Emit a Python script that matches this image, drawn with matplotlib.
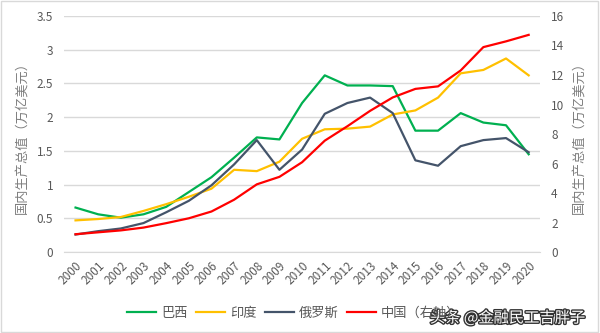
import matplotlib
matplotlib.use("Agg")
import matplotlib.pyplot as plt
import matplotlib.patheffects as pe
from matplotlib.patches import Rectangle

plt.rcParams['font.family'] = ['Noto Sans CJK SC', 'DejaVu Sans']

years = [str(y) for y in range(2000, 2021)]
brazil = [0.66, 0.56, 0.51, 0.56, 0.67, 0.89, 1.11, 1.40, 1.70, 1.67, 2.21, 2.62, 2.47, 2.47, 2.46, 1.80, 1.80, 2.06, 1.92, 1.88, 1.45]
india = [0.47, 0.49, 0.52, 0.61, 0.71, 0.82, 0.94, 1.22, 1.20, 1.34, 1.68, 1.82, 1.83, 1.86, 2.04, 2.10, 2.29, 2.65, 2.70, 2.87, 2.62]
russia = [0.26, 0.31, 0.35, 0.43, 0.59, 0.76, 0.99, 1.30, 1.66, 1.22, 1.52, 2.05, 2.21, 2.29, 2.06, 1.36, 1.28, 1.57, 1.66, 1.69, 1.48]
china = [1.21, 1.34, 1.47, 1.66, 1.96, 2.29, 2.75, 3.55, 4.59, 5.10, 6.09, 7.55, 8.53, 9.57, 10.48, 11.06, 11.23, 12.31, 13.89, 14.28, 14.72]
left_ticks = [0, 0.5, 1, 1.5, 2, 2.5, 3, 3.5]
left_tick_labels = ['0', '0.5', '1', '1.5', '2', '2.5', '3', '3.5']
right_ticks = [0, 2, 4, 6, 8, 10, 12, 14, 16]
series_names = ['巴西', '印度', '俄罗斯', '中国（右轴）']

fig = plt.figure(figsize=(6, 3.33), dpi=100)
fig.patches.append(Rectangle((0.002, 0.003), 0.995, 0.993, transform=fig.transFigure,
                             fill=False, edgecolor='#D9D9D9', linewidth=1))
ax = fig.add_axes([0.107, 0.243, 0.793, 0.709])
ax2 = ax.twinx()

x = list(range(len(years)))
tc = '#595959'
l1, = ax.plot(x, brazil, color='#00B050', lw=1.6)
l2, = ax.plot(x, india, color='#FFC000', lw=1.6)
l3, = ax.plot(x, russia, color='#44546A', lw=1.6)
l4, = ax2.plot(x, china, color='#FF0000', lw=1.6)

ax.set_ylim(0, 3.5)
ax2.set_ylim(0, 16)
ax.set_xlim(-0.5, len(years) - 0.5)
ax.set_yticks(left_ticks)
ax.set_yticklabels(left_tick_labels)
ax2.set_yticks(right_ticks)
ax.yaxis.grid(True, color='#D9D9D9', lw=1)
ax.set_axisbelow(True)
ax.set_xticks(x)
ax.set_xticklabels(years, rotation=45, ha='right', rotation_mode='anchor')

for a in (ax, ax2):
    for s in a.spines.values():
        s.set_visible(False)
    a.tick_params(length=0, labelsize=8.5, colors=tc)
ax.tick_params(axis='y', pad=8)
ax2.tick_params(axis='y', pad=8)
ax.tick_params(axis='x', pad=5)
ax.spines['bottom'].set_visible(True)
ax.spines['bottom'].set_color('#D9D9D9')

ax.set_ylabel('国内生产总值（万亿美元）', color='#7F7F7F', fontsize=9.5, labelpad=6)
ax2.set_ylabel('国内生产总值（万亿美元）', color='#7F7F7F', fontsize=9.5, rotation=90, labelpad=6)

fig.legend([l1, l2, l3, l4], series_names, loc='center', bbox_to_anchor=(0.49, 0.06),
           ncol=4, frameon=False, fontsize=9.5, labelcolor=tc, handlelength=2.2,
           columnspacing=0.6, handletextpad=0.4)

fig.text(0.975, 0.045, '头条 @金融民工吉胖子', ha='right', va='center', fontsize=11,
         color='white', path_effects=[pe.withStroke(linewidth=2, foreground='#333333')])

fig.savefig('out.png', dpi=100)
